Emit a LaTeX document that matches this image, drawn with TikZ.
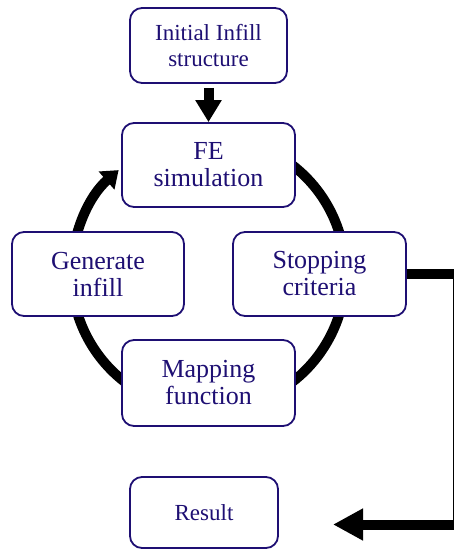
\documentclass[tikz,border=0pt]{standalone}
\usepackage{fontspec}
\setmainfont{Liberation Serif}
\usetikzlibrary{arrows.meta,backgrounds,calc}
\definecolor{navy}{RGB}{30,15,115}
\begin{document}
\begin{tikzpicture}[x=1pt,y=-1pt,
  box/.style={draw=navy, line width=1.8pt, rounded corners=12pt, fill=white, text=navy, align=center, inner sep=0pt},
  bigbox/.style={box, minimum width=173pt, minimum height=84pt, font=\fontsize{26}{27}\selectfont},
  smallbox/.style={box, font=\fontsize{23}{26}\selectfont},
  conn/.style={line width=10pt, draw=black},
  ring/.style={line width=10pt, draw=black}]
\useasboundingbox (0,0) rectangle (453,549);
\node[smallbox, minimum width=157pt, minimum height=75pt] (init) at (208.5,45.5) {Initial Infill\\structure};
\node[bigbox] (fe) at (208.5,165) {FE\\simulation};
\node[bigbox, minimum width=172pt] (gen) at (98,274) {Generate\\infill};
\node[bigbox] (stop) at (319.5,274) {Stopping\\criteria};
\node[bigbox, minimum height=86pt] (map) at (208.5,383) {Mapping\\function};
\node[smallbox, minimum width=148pt, minimum height=71pt] (res) at (204,512.5) {Result};
\begin{scope}[on background layer]
  \coordinate (c) at ($(fe.south)!0.5!(map.north)$);
  \draw[ring, -{Triangle[length=16pt,width=23pt]}] ($(c)+(-60:137)$) arc[start angle=-60, end angle=229, radius=137];
\end{scope}
\draw[conn, -{Triangle[length=22pt,width=25pt]}] ([yshift=-4pt]init.south) -- (fe.north);
\coordinate (rt) at (458.2,274);
\coordinate (rb) at (458.2,524.5);
\coordinate (tip) at (333,524.5);
\draw[conn, -{Triangle[length=30pt,width=30pt]}] (stop.east) -- (rt) -- (rb) -- (tip);
\end{tikzpicture}
\end{document}
